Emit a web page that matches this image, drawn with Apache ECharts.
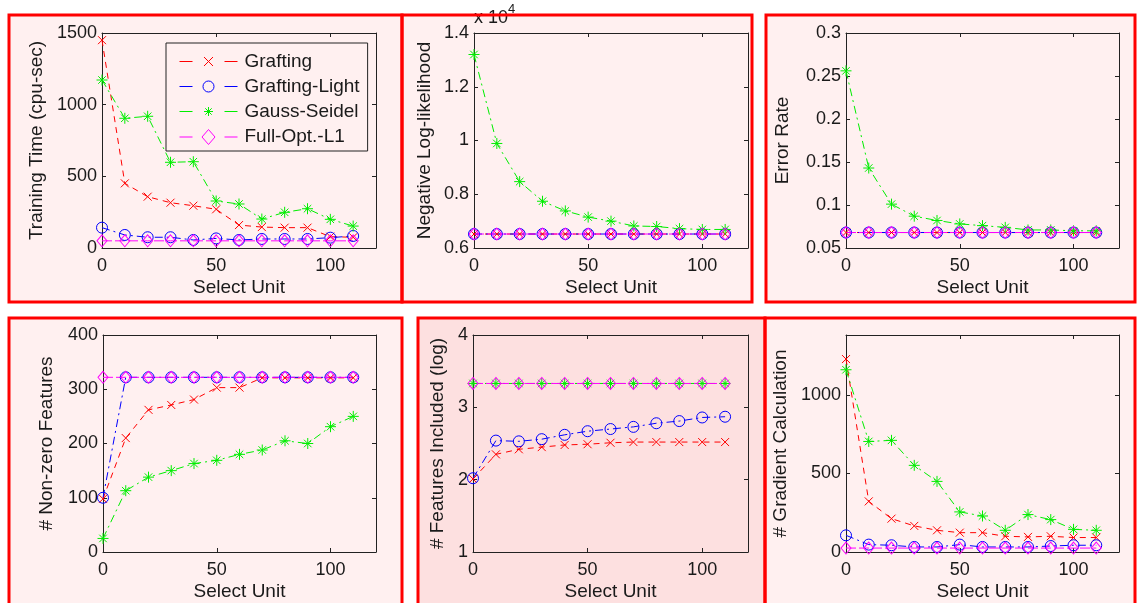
<!DOCTYPE html>
<html><head><meta charset="utf-8">
<script src="https://cdn.jsdelivr.net/npm/echarts@6/dist/echarts.min.js"></script>
<style>html,body{margin:0;padding:0;background:#fff}#c{width:1137px;height:603px}</style>
</head><body><div id="c"></div>
<script>
// ---------------- DATA ----------------
const selectUnit = [0, 10, 20, 30, 40, 50, 60, 70, 80, 90, 100, 110];
const seriesNames = ['Grafting', 'Grafting-Light', 'Gauss-Seidel', 'Full-Opt.-L1'];
const xAxisName = 'Select Unit';
const yAxisNames = ['Training Time (cpu-sec)', 'Negative Log-likelihood', 'Error Rate',
                    '# Non-zero Features', '# Features Included (log)', '# Gradient Calculation'];
const nllScaleLabel = 'x 10';
const nllScaleExp = '4';

// Training time (cpu-sec)
const timeGrafting = [1450, 451, 358, 316, 295, 270, 160, 146, 142, 142, 79, 75];
const timeLight    = [142, 91, 75, 75, 56, 67, 56, 63, 63, 63, 72, 84];
const timeGauss    = [1172, 905, 919, 598, 602, 328, 307, 202, 249, 274, 200, 153];
const timeFull     = [50, 50, 50, 50, 50, 50, 50, 50, 50, 50, 50, 50];
// Negative log-likelihood (x 10^4)
const nllGrafting = [0.652, 0.652, 0.652, 0.652, 0.652, 0.652, 0.652, 0.652, 0.652, 0.652, 0.652, 0.652];
const nllLight    = [0.652, 0.652, 0.652, 0.652, 0.652, 0.652, 0.652, 0.652, 0.652, 0.652, 0.652, 0.652];
const nllGauss    = [1.32, 0.989, 0.847, 0.774, 0.738, 0.715, 0.700, 0.682, 0.680, 0.672, 0.669, 0.669];
const nllFull     = [0.652, 0.652, 0.652, 0.652, 0.652, 0.652, 0.652, 0.652, 0.652, 0.652, 0.652, 0.652];
// Error rate
const errGrafting = [0.068, 0.068, 0.068, 0.068, 0.068, 0.068, 0.068, 0.068, 0.068, 0.068, 0.068, 0.068];
const errLight    = [0.068, 0.068, 0.068, 0.068, 0.068, 0.068, 0.068, 0.068, 0.068, 0.068, 0.068, 0.068];
const errGauss    = [0.256, 0.143, 0.101, 0.087, 0.082, 0.078, 0.076, 0.074, 0.071, 0.071, 0.070, 0.070];
const errFull     = [0.068, 0.068, 0.068, 0.068, 0.068, 0.068, 0.068, 0.068, 0.068, 0.068, 0.068, 0.068];
// Non-zero features
const nzGrafting = [98, 210, 262, 271, 281, 303, 303, 321, 321, 321, 321, 321];
const nzLight    = [100, 322, 322, 322, 322, 322, 322, 322, 322, 322, 322, 322];
const nzGauss    = [25, 113, 138, 150, 163, 169, 180, 188, 205, 200, 231, 250];
const nzFull     = [322, 322, 322, 322, 322, 322, 322, 322, 322, 322, 322, 322];
// Features included (log)
const logGrafting = [2.01, 2.35, 2.42, 2.45, 2.48, 2.49, 2.51, 2.52, 2.52, 2.52, 2.52, 2.52];
const logLight    = [2.02, 2.54, 2.53, 2.56, 2.62, 2.67, 2.70, 2.73, 2.78, 2.81, 2.86, 2.87];
const logGauss    = [3.33, 3.33, 3.33, 3.33, 3.33, 3.33, 3.33, 3.33, 3.33, 3.33, 3.33, 3.33];
const logFull     = [3.33, 3.33, 3.33, 3.33, 3.33, 3.33, 3.33, 3.33, 3.33, 3.33, 3.33, 3.33];
// Gradient calculation
const gradGrafting = [1227, 322, 212, 166, 138, 123, 123, 100, 96, 100, 92, 92];
const gradLight    = [106, 47, 43, 32, 32, 47, 32, 32, 32, 38, 43, 43];
const gradGauss    = [1159, 703, 710, 551, 449, 255, 229, 138, 238, 206, 144, 138];
const gradFull     = [25, 25, 25, 25, 25, 25, 25, 25, 25, 25, 25, 25];

// ---------------- LAYOUT / STYLE ----------------
const FONT = 'Liberation Sans, Arial, Helvetica, sans-serif';
const TXT = '#1a1a1a';
const X_PATH = 'path://M0,0L10,10M0,10L10,0';
const STAR_PATH = 'path://M5,0L5,10M0,5L10,5M1.6,1.6L8.4,8.4M1.6,8.4L8.4,1.6';
const styles = [
  { color: '#ff0000', symbol: X_PATH, size: 8, dash: [6, 5],
    icon: 'path://M0,8L13,8M45,8L58,8M24.5,3.5L33.5,12.5M24.5,12.5L33.5,3.5' },
  { color: '#0000ff', symbol: 'circle', size: 11, dash: [8, 4, 2, 4],
    icon: 'path://M0,8L13,8M45,8L58,8M34.5,8A5.5,5.5,0,1,1,23.5,8A5.5,5.5,0,1,1,34.5,8Z' },
  { color: '#00ee00', symbol: STAR_PATH, size: 11, dash: [8, 4, 2, 4],
    icon: 'path://M0,8L13,8M45,8L58,8M29,3.5L29,12.5M24.5,8L33.5,8M25.8,4.8L32.2,11.2M25.8,11.2L32.2,4.8' },
  { color: '#ff00ff', symbol: 'diamond', size: [10, 12], dash: [10, 3],
    icon: 'path://M0,8L13,8M45,8L58,8M29,0.5L35.5,8L29,15.5L22.5,8Z' }
];
const fmt = v => String(parseFloat(Number(v).toPrecision(10)));

const panels = [
  { grid: { left: 102, top: 33, width: 274, height: 215 }, yMin: 0, yMax: 1500, yInt: 500, nameGap: 56, showMax: true,
    data: [timeGrafting, timeLight, timeGauss, timeFull] },
  { grid: { left: 474, top: 33, width: 274, height: 215 }, yMin: 0.6, yMax: 1.4, yInt: 0.2, nameGap: 40, showMax: true,
    data: [nllGrafting, nllLight, nllGauss, nllFull] },
  { grid: { left: 846, top: 33, width: 273, height: 215 }, yMin: 0.05, yMax: 0.3, yInt: 0.05, nameGap: 54, showMax: true,
    data: [errGrafting, errLight, errGauss, errFull] },
  { grid: { left: 103, top: 335, width: 273, height: 217 }, yMin: 0, yMax: 400, yInt: 100, nameGap: 47, showMax: true,
    data: [nzGrafting, nzLight, nzGauss, nzFull] },
  { grid: { left: 473, top: 335, width: 275, height: 217 }, yMin: 1, yMax: 4, yInt: 1, nameGap: 26, showMax: true,
    data: [logGrafting, logLight, logGauss, logFull] },
  { grid: { left: 846, top: 335, width: 273, height: 217 }, yMin: 0, yMax: 1380, yInt: 500, nameGap: 56, showMax: false,
    data: [gradGrafting, gradLight, gradGauss, gradFull] }
];

const grids = [], xAxes = [], yAxes = [], series = [];
const lineC = { color: '#222', width: 1 };
panels.forEach((p, i) => {
  grids.push(Object.assign({ containLabel: false }, p.grid));
  const xBase = { gridIndex: i, type: 'value', min: 0, max: 120, interval: 50,
    axisLine: { show: true, onZero: false, lineStyle: lineC },
    axisTick: { show: true, inside: true, length: 4, lineStyle: lineC },
    splitLine: { show: false } };
  xAxes.push(Object.assign({}, xBase, { position: 'bottom',
    axisLabel: { margin: 9, fontSize: 18, color: TXT, fontFamily: FONT, showMaxLabel: false, formatter: fmt },
    name: xAxisName, nameLocation: 'middle', nameGap: 30,
    nameTextStyle: { fontSize: 19, color: TXT, fontFamily: FONT } }));
  xAxes.push(Object.assign({}, xBase, { position: 'top', axisLabel: { show: false } }));
  const yBase = { gridIndex: i, type: 'value', min: p.yMin, max: p.yMax, interval: p.yInt,
    axisLine: { show: true, onZero: false, lineStyle: lineC },
    axisTick: { show: true, inside: true, length: 4, lineStyle: lineC },
    splitLine: { show: false } };
  yAxes.push(Object.assign({}, yBase, { position: 'left',
    axisLabel: { margin: 5, fontSize: 18, color: TXT, fontFamily: FONT, showMaxLabel: p.showMax, formatter: fmt },
    name: yAxisNames[i], nameLocation: 'middle', nameGap: p.nameGap,
    nameTextStyle: { fontSize: 19, color: TXT, fontFamily: FONT } }));
  yAxes.push(Object.assign({}, yBase, { position: 'right', axisLabel: { show: false } }));
  p.data.forEach((arr, s) => {
    const st = styles[s];
    series.push({
      type: 'line', name: seriesNames[s], xAxisIndex: 2 * i, yAxisIndex: 2 * i,
      data: selectUnit.map((x, k) => [x, arr[k]]),
      symbol: st.symbol, symbolSize: st.size, showAllSymbol: true,
      lineStyle: { color: st.color, width: 1, type: st.dash },
      itemStyle: { color: 'none', borderColor: st.color, borderWidth: 1 },
      emphasis: { disabled: true }, silent: true
    });
  });
});

const panelBoxes = [
  { x: 9, y: 15, w: 393, h: 287, fill: '#fff0f0' },
  { x: 402, y: 15, w: 350, h: 287, fill: '#fff0f0' },
  { x: 766, y: 15, w: 369, h: 287, fill: '#fff0f0' },
  { x: 9, y: 318, w: 393, h: 295, fill: '#fff0f0' },
  { x: 418, y: 318, w: 347, h: 295, fill: '#fde0e0' },
  { x: 765, y: 318, w: 370, h: 295, fill: '#fff0f0' }
];
const graphics = [];
panelBoxes.forEach(b => {
  graphics.push({ type: 'rect', z: -20, silent: true, shape: { x: b.x, y: b.y, width: b.w, height: b.h },
    style: { fill: b.fill, stroke: null } });
  graphics.push({ type: 'rect', z: -10, silent: true, shape: { x: b.x, y: b.y, width: b.w, height: b.h },
    style: { fill: null, stroke: '#ff0000', lineWidth: 3 } });
});
graphics.push({ type: 'text', z: -15, silent: true, x: 474, y: 18,
  style: { text: nllScaleLabel, fontSize: 18, fontFamily: FONT, fill: TXT, verticalAlign: 'middle' } });
graphics.push({ type: 'text', z: -15, silent: true, x: 508, y: 9,
  style: { text: nllScaleExp, fontSize: 13, fontFamily: FONT, fill: TXT, verticalAlign: 'middle' } });

const legendData = seriesNames.map((n, s) => ({
  name: n,
  icon: styles[s].icon,
  itemStyle: { color: 'none', borderColor: styles[s].color, borderWidth: 1 }
}));

const option = {
  animation: false,
  backgroundColor: '#ffffff',
  grid: grids, xAxis: xAxes, yAxis: yAxes, series: series,
  graphic: { elements: graphics },
  legend: {
    data: legendData, orient: 'vertical', left: 166, top: 43,
    padding: [9, 8, 4, 11], itemGap: 6, itemWidth: 58, itemHeight: 16,
    backgroundColor: '#fff0f0', borderColor: '#222', borderWidth: 1, borderRadius: 0,
    textStyle: { fontSize: 19, color: TXT, fontFamily: FONT, padding: [0, 0, 0, 2] },
    selectedMode: false
  }
};
const chart = echarts.init(document.getElementById('c'), null, { renderer: 'canvas' });
chart.setOption(option);
</script></body></html>
